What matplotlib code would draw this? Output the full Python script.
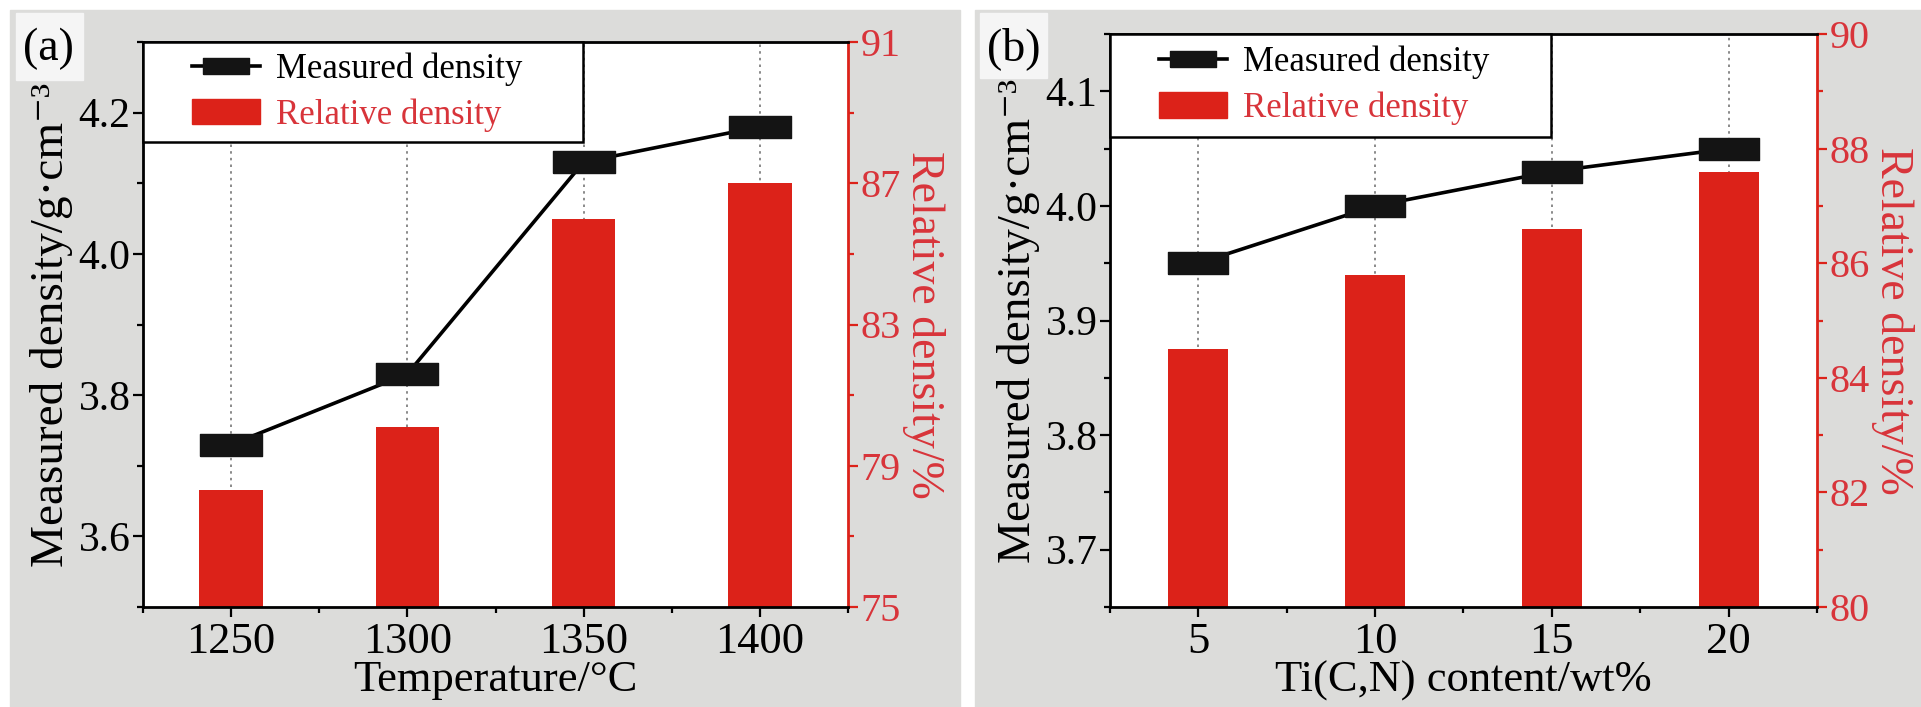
import numpy as np
import matplotlib.pyplot as plt
from matplotlib.patches import Rectangle, Patch
from matplotlib.lines import Line2D

# panel (a): sintering temperature
temps = [1250, 1300, 1350, 1400]
meas_a = [3.73, 3.83, 4.13, 4.18]
rel_a = [78.3, 80.1, 86.0, 87.0]

# panel (b): Ti(C,N) content
content = [5, 10, 15, 20]
meas_b = [3.95, 4.00, 4.03, 4.05]
rel_b = [84.5, 85.8, 86.6, 87.6]

plt.rcParams['font.family'] = ['Liberation Serif', 'DejaVu Serif']

W, H = 1921, 707
RED = '#dc2219'
TXTRED = '#d8343a'
GRAY = '#dcdcda'

fig = plt.figure(figsize=(W / 100, H / 100), dpi=100)
fig.patch.set_facecolor('white')


def px_box(l, r, t, b, **kw):
    fig.add_artist(Rectangle((l / W, 1 - b / H), (r - l) / W, (b - t) / H,
                             transform=fig.transFigure, **kw))


px_box(10, 960, 10, H, color=GRAY, zorder=-10)
px_box(975, W, 10, H, color=GRAY, zorder=-10)

box = [(-1, -0.365), (1, -0.365), (1, 0.365), (-1, 0.365), (-1, -0.365)]


def px_rect(l, r, t, b):
    return [l / W, 1 - b / H, (r - l) / W, (b - t) / H]


def panel(rect, x, meas, rel, width, xlim, xminor, ylim, yt, ytl, yminor,
          rlim, rt, rminor, xlabel, msize, legw, legh):
    ax = fig.add_axes(rect)
    ax2 = ax.twinx()
    ax2.patch.set_visible(True)
    ax2.patch.set_facecolor('white')
    ax.set_zorder(ax2.get_zorder() + 1)
    ax.patch.set_visible(False)

    for xi in x:
        ax2.axvline(xi, color='#777777', ls=(0, (1.5, 2.5)), lw=1.2, zorder=0)
    ax2.bar(x, rel, width=width, color=RED, zorder=2)
    ax.plot(x, meas, color='black', lw=2.6, marker=box, markersize=msize,
            mfc='#141414', mec='#141414', zorder=3)

    ax.set_xlim(xlim)
    ax.set_xticks(x)
    ax.set_xticklabels([str(v) for v in x])
    ax.set_xticks(xminor, minor=True)
    ax.set_ylim(ylim)
    ax.set_yticks(yt)
    ax.set_yticklabels(ytl)
    ax.set_yticks(yminor, minor=True)
    ax2.set_ylim(rlim)
    ax2.set_yticks(rt)
    ax2.set_yticks(rminor, minor=True)

    ax.tick_params(which='major', length=7, width=1.6, labelsize=30, pad=2)
    ax.tick_params(axis='x', which='major', labelsize=32, pad=4)
    ax.tick_params(which='minor', length=4, width=1.6)
    ax.tick_params(axis='y', which='both', right=False)
    ax2.tick_params(which='major', length=7, width=1.6, labelsize=29, colors=RED,
                    labelcolor=TXTRED, pad=2)
    ax2.tick_params(which='minor', length=4, width=1.6, colors=RED)

    for s in ['left', 'bottom', 'top']:
        ax.spines[s].set_linewidth(2)
    ax.spines['right'].set_visible(False)
    for s in ['left', 'bottom', 'top']:
        ax2.spines[s].set_visible(False)
    ax2.spines['right'].set_color(RED)
    ax2.spines['right'].set_linewidth(2)

    ax.set_xlabel(xlabel, fontsize=32)
    ax.xaxis.set_label_coords(0.5, -0.094)
    ax.set_ylabel('Measured density/g·cm⁻³', fontsize=34, labelpad=4)
    ax2.set_ylabel('Relative density/%', fontsize=33, color=TXTRED, rotation=270,
                   labelpad=32)

    # legend frame drawn by hand so the padding matches
    ax.add_patch(Rectangle((0, 1 - legh), legw, legh, transform=ax.transAxes,
                           facecolor='white', edgecolor='black', lw=1.8, zorder=5,
                           clip_on=False))
    handles = [Line2D([], [], color='black', lw=2.6, marker=box, markersize=33,
                      mfc='#141414', mec='#141414'),
               Patch(facecolor=RED, edgecolor=RED)]
    leg = ax.legend(handles, ['Measured density', 'Relative density'], loc='center left',
                    bbox_to_anchor=(0.07, 1 - legh / 2), borderaxespad=0, borderpad=0,
                    fontsize=25, frameon=False, handlelength=1.95, handleheight=0.75,
                    handletextpad=0.45, labelspacing=0.35)
    leg.set_zorder(6)
    leg.get_texts()[1].set_color(TXTRED)
    return ax, ax2


panel(px_rect(143, 848, 42, 607), temps, meas_a, rel_a, 18,
      (1225, 1425), [1225, 1275, 1325, 1375, 1425],
      (3.5, 4.3), [3.6, 3.8, 4.0, 4.2], ['3.6', '3.8', '4.0', '4.2'], [3.5, 3.7, 3.9, 4.1, 4.3],
      (75, 91), [75, 79, 83, 87, 91], [77, 81, 85, 89],
      'Temperature/°C', 45, 0.624, 0.177)

panel(px_rect(1110, 1817, 34, 607), content, meas_b, rel_b, 1.7,
      (2.5, 22.5), [2.5, 7.5, 12.5, 17.5, 22.5],
      (3.65, 4.15), [3.7, 3.8, 3.9, 4.0, 4.1], ['3.7', '3.8', '3.9', '4.0', '4.1'],
      [3.65, 3.75, 3.85, 3.95, 4.05, 4.15],
      (80, 90), [80, 82, 84, 86, 88, 90], [81, 83, 85, 87, 89],
      'Ti(C,N) content/wt%', 43, 0.624, 0.18)

# panel tags in their light boxes
px_box(16, 83, 13, 80, color='#f5f5f5', zorder=-5)
px_box(980, 1047, 13, 78, color='#f5f5f5', zorder=-5)
fig.text(48 / W, 1 - 49 / H, '(a)', fontsize=33, ha='center', va='center')
fig.text(1014 / W, 1 - 49 / H, '(b)', fontsize=33, ha='center', va='center')

fig.savefig('out.png', dpi=100)
